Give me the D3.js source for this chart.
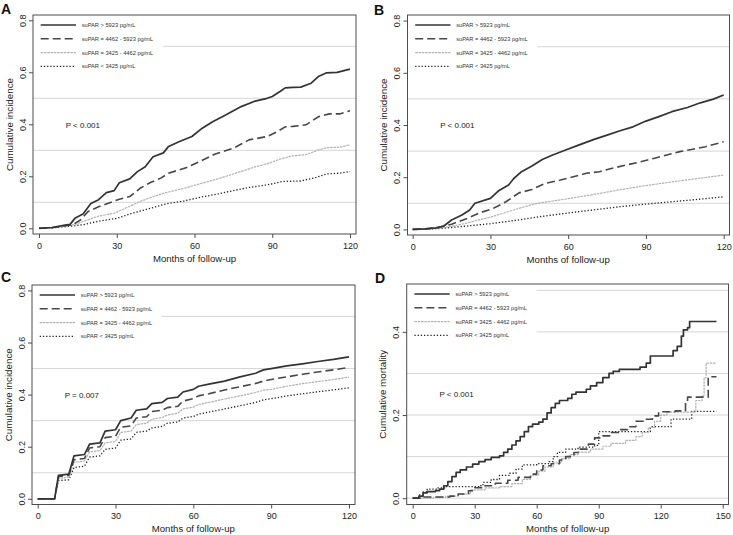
<!DOCTYPE html>
<html>
<head>
<meta charset="utf-8">
<script src="https://cdn.jsdelivr.net/npm/d3@7"></script>
<style>
  html, body { margin: 0; padding: 0; background: #fff; }
  svg { display: block; font-family: "Liberation Sans", Arial, Helvetica, sans-serif; }
</style>
</head>
<body>
<svg id="chart" width="733" height="535"></svg>
<script>
// ---------------- DATA ----------------
const legendLabels = ["suPAR > 5923 pg/mL", "suPAR = 4462 - 5923 pg/mL", "suPAR = 3425 - 4462 pg/mL", "suPAR < 3425 pg/mL"];
const panelLetters = ["A", "B", "C", "D"];
const pValues = ["P < 0.001", "P < 0.001", "P = 0.007", "P < 0.001"];
const yTitles = ["Cumulative incidence", "Cumulative incidence", "Cumulative incidence", "Cumulative mortality"];
const xTitle = "Months of follow-up";
const xTicks120 = [0, 30, 60, 90, 120];
const xTicks150 = [0, 30, 60, 90, 120, 150];
const yTicks08 = [0, 0.2, 0.4, 0.6, 0.8];
const yGrid08 = [0.1, 0.3, 0.5, 0.7];
const yTicks05 = [0, 0.2, 0.4];
const yGrid05 = [0, 0.1, 0.2, 0.3, 0.4, 0.5];

// Panel A: [month, cumulative incidence]
const A_high = [[0,0],[5,0.003],[10,0.012],[12,0.015],[14,0.04],[17,0.055],[20,0.095],[23,0.11],[26,0.137],[29,0.145],[31,0.175],[35,0.19],[38,0.218],[41,0.237],[44,0.275],[48,0.29],[50,0.315],[54,0.333],[59,0.353],[63,0.385],[67,0.41],[72,0.436],[78,0.468],[83,0.488],[88,0.5],[90,0.507],[93,0.526],[95,0.54],[98,0.542],[101,0.543],[105,0.558],[108,0.585],[111,0.598],[115,0.6],[120,0.612]];
const A_mid2 = [[0,0],[5,0.002],[10,0.01],[13,0.014],[16,0.032],[19,0.065],[23,0.083],[27,0.097],[31,0.112],[35,0.122],[39,0.154],[43,0.176],[47,0.193],[50,0.212],[57,0.234],[62,0.257],[68,0.286],[75,0.308],[81,0.34],[88,0.353],[92,0.372],[95,0.39],[98,0.392],[103,0.398],[108,0.43],[112,0.44],[116,0.44],[120,0.452]];
const A_mid1 = [[0,0],[5,0.002],[10,0.008],[14,0.015],[17,0.026],[23,0.047],[29,0.058],[34,0.08],[39,0.103],[44,0.122],[49,0.137],[56,0.154],[62,0.171],[69,0.19],[75,0.209],[83,0.235],[88,0.248],[93,0.266],[98,0.279],[103,0.283],[108,0.302],[111,0.31],[116,0.312],[120,0.321]];
const A_low = [[0,0],[5,0.002],[10,0.006],[14,0.01],[17,0.014],[23,0.027],[30,0.038],[36,0.058],[43,0.077],[49,0.094],[56,0.105],[62,0.119],[69,0.132],[75,0.145],[81,0.157],[88,0.167],[94,0.18],[101,0.182],[107,0.196],[111,0.209],[116,0.212],[120,0.218]];

// Panel B
const B_high = [[0,0],[5,0.002],[9,0.006],[12,0.013],[15,0.036],[19,0.055],[22,0.074],[24,0.1],[30,0.119],[33,0.147],[37,0.17],[39,0.195],[42,0.221],[46,0.243],[50,0.268],[54,0.285],[59,0.304],[64,0.323],[70,0.345],[75,0.361],[80,0.378],[85,0.393],[90,0.415],[95,0.432],[100,0.451],[106,0.467],[111,0.485],[116,0.499],[120,0.515]];
const B_mid2 = [[0,0],[5,0.002],[10,0.008],[15,0.02],[21,0.042],[26,0.064],[31,0.08],[36,0.106],[41,0.14],[46,0.153],[51,0.176],[57,0.189],[62,0.202],[67,0.215],[72,0.221],[77,0.234],[82,0.246],[88,0.259],[93,0.272],[98,0.285],[103,0.298],[108,0.307],[113,0.317],[120,0.336]];
const B_mid1 = [[0,0],[10,0.004],[15,0.012],[20,0.022],[25,0.035],[30,0.047],[35,0.062],[40,0.078],[45,0.092],[48,0.1],[55,0.11],[60,0.118],[70,0.134],[80,0.152],[90,0.168],[100,0.182],[110,0.195],[120,0.208]];
const B_low = [[0,0],[10,0.003],[20,0.012],[30,0.022],[40,0.035],[50,0.05],[60,0.063],[70,0.075],[80,0.087],[90,0.097],[100,0.106],[110,0.115],[120,0.125]];

// Panel C
const C_high = [[0,0],[6.5,0],[8,0.09],[12,0.095],[14,0.165],[18,0.17],[20,0.21],[24,0.215],[26,0.26],[30,0.265],[32,0.3],[36,0.31],[38,0.34],[42,0.345],[44,0.365],[48,0.37],[50,0.385],[54,0.39],[56,0.41],[60,0.42],[62,0.432],[66,0.44],[72,0.452],[78,0.468],[84,0.482],[87,0.495],[90,0.5],[96,0.51],[102,0.518],[108,0.527],[114,0.535],[120,0.545]];
const C_mid2 = [[0,0],[6.5,0],[8,0.085],[12,0.09],[14,0.15],[18,0.155],[20,0.195],[24,0.2],[26,0.235],[30,0.24],[32,0.275],[36,0.28],[38,0.31],[42,0.315],[44,0.335],[48,0.34],[50,0.35],[54,0.355],[56,0.375],[60,0.385],[62,0.395],[66,0.403],[72,0.418],[78,0.43],[84,0.443],[87,0.452],[90,0.458],[96,0.468],[102,0.478],[108,0.487],[114,0.495],[120,0.504]];
const C_mid1 = [[0,0],[6.5,0],[8,0.078],[12,0.083],[14,0.14],[18,0.145],[20,0.18],[24,0.185],[26,0.215],[30,0.22],[32,0.255],[36,0.26],[38,0.285],[42,0.29],[44,0.305],[48,0.312],[50,0.322],[54,0.328],[56,0.345],[60,0.352],[62,0.362],[66,0.37],[72,0.383],[78,0.395],[84,0.408],[87,0.417],[90,0.42],[96,0.432],[102,0.442],[108,0.45],[114,0.458],[120,0.467]];
const C_low = [[0,0],[6.5,0],[8,0.07],[12,0.073],[14,0.12],[18,0.125],[20,0.16],[24,0.165],[26,0.19],[30,0.195],[32,0.225],[36,0.23],[38,0.255],[42,0.26],[44,0.272],[48,0.278],[50,0.29],[54,0.295],[56,0.31],[60,0.316],[62,0.325],[66,0.333],[72,0.345],[78,0.357],[84,0.37],[87,0.38],[90,0.384],[96,0.395],[102,0.403],[108,0.411],[114,0.418],[120,0.426]];

// Panel D (step functions): [month, cumulative mortality]
const D_high = [[0,0],[3,0.005],[5,0.013],[7,0.016],[11,0.018],[13,0.022],[15,0.03],[17,0.04],[19,0.052],[21,0.062],[23,0.068],[26,0.075],[29,0.082],[32,0.088],[35,0.093],[38,0.098],[42,0.102],[44,0.11],[46,0.118],[48,0.128],[50,0.138],[52,0.148],[54,0.16],[56,0.172],[58,0.178],[61,0.183],[63,0.19],[65,0.205],[67,0.218],[69,0.228],[71,0.235],[75,0.24],[77,0.25],[79,0.255],[84,0.262],[86,0.27],[89,0.278],[92,0.29],[95,0.3],[97,0.305],[100,0.31],[110,0.315],[113,0.325],[115,0.342],[124,0.342],[126,0.355],[128,0.365],[130,0.39],[131,0.405],[133,0.41],[134,0.425],[147,0.425]];
const D_mid2 = [[0,0],[5,0.003],[18,0.005],[22,0.01],[27,0.018],[30,0.025],[34,0.03],[40,0.036],[46,0.043],[51,0.05],[57,0.058],[60,0.068],[63,0.078],[67,0.083],[71,0.092],[74,0.1],[78,0.11],[81,0.118],[85,0.13],[88,0.145],[92,0.15],[96,0.158],[100,0.165],[104,0.172],[108,0.185],[112,0.19],[116,0.198],[119,0.208],[127,0.21],[132,0.232],[133,0.243],[142,0.243],[143,0.292],[147,0.292]];
const D_mid1 = [[0,0],[10,0.002],[16,0.005],[22,0.01],[28,0.02],[35,0.025],[42,0.028],[48,0.035],[53,0.045],[57,0.055],[61,0.065],[64,0.075],[68,0.085],[72,0.095],[76,0.105],[80,0.111],[86,0.118],[92,0.125],[96,0.132],[103,0.139],[108,0.148],[111,0.158],[114,0.17],[117,0.185],[120,0.2],[123,0.207],[136,0.207],[137,0.235],[140,0.247],[141,0.29],[142,0.325],[147,0.325]];
const D_low = [[0,0],[3,0.008],[5,0.015],[7,0.022],[12,0.025],[16,0.028],[32,0.03],[34,0.038],[38,0.045],[42,0.055],[47,0.06],[50,0.07],[53,0.08],[60,0.083],[66,0.088],[68,0.1],[70,0.11],[74,0.118],[80,0.123],[88,0.127],[90,0.16],[114,0.16],[115,0.172],[125,0.19],[135,0.209],[147,0.209]];

// ---------------- STYLES ----------------
const seriesStyles = [
  { stroke: "#333333", width: 1.7, dash: null },
  { stroke: "#474747", width: 1.6, dash: "8,4" },
  { stroke: "#b2b2b2", width: 1.2, dash: "2.5,0.8" },
  { stroke: "#222222", width: 1.3, dash: "1.3,1.9" }
];

const panels = [
  { letter: panelLetters[0], p: pValues[0], yTitle: yTitles[0], series: [A_high, A_mid2, A_mid1, A_low],
    xDomain: [0,120], xRange: [39, 350], yDomain: [0,0.8], yRange: [228.3, 20.3],
    frame: [33, 15, 356, 234], xTicks: xTicks120, yTicks: yTicks08, yGrid: yGrid08, step: false, letterPos: [1, 13.5] },
  { letter: panelLetters[1], p: pValues[1], yTitle: yTitles[1], series: [B_high, B_mid2, B_mid1, B_low],
    xDomain: [0,120], xRange: [412.7, 723.7], yDomain: [0,0.8], yRange: [229.4, 20.6],
    frame: [407.5, 15, 729.5, 235], xTicks: xTicks120, yTicks: yTicks08, yGrid: yGrid08, step: false, letterPos: [374, 15] },
  { letter: panelLetters[2], p: pValues[2], yTitle: yTitles[2], series: [C_high, C_mid2, C_mid1, C_low],
    xDomain: [0,120], xRange: [37.7, 349], yDomain: [0,0.8], yRange: [498.8, 290.4],
    frame: [32, 285, 355, 504.5], xTicks: xTicks120, yTicks: yTicks08, yGrid: yGrid08, step: false, letterPos: [1, 282] },
  { letter: panelLetters[3], p: pValues[3], yTitle: yTitles[3], series: [D_high, D_mid2, D_mid1, D_low],
    xDomain: [0,150], xRange: [412.7, 722.7], yDomain: [0,0.5], yRange: [498.2, 290.3],
    frame: [406.7, 284, 728.5, 504.5], xTicks: xTicks150, yTicks: yTicks05, yGrid: yGrid05, step: true, letterPos: [375, 282.5] }
];

const svg = d3.select("#chart");
const fmtY = d3.format(".1f");

panels.forEach(pn => {
  const g = svg.append("g");
  const x = d3.scaleLinear().domain(pn.xDomain).range(pn.xRange);
  const y = d3.scaleLinear().domain(pn.yDomain).range(pn.yRange);
  const [fl, ft, fr, fb] = pn.frame;

  // gridlines
  g.selectAll(".grid").data(pn.yGrid).join("line")
    .attr("x1", fl).attr("x2", fr)
    .attr("y1", d => y(d)).attr("y2", d => y(d))
    .attr("stroke", "#d6d6d6").attr("stroke-width", 1);

  // legend white box
  g.append("rect").attr("x", fl + 0.5).attr("y", ft + 0.5)
    .attr("width", 129.5).attr("height", 58).attr("fill", "#fff");

  // series
  const line = d3.line().x(d => x(d[0])).y(d => y(d[1]))
    .curve(pn.step ? d3.curveStepAfter : d3.curveLinear);
  pn.series.slice().reverse().forEach((s, iRev) => {
    const i = pn.series.length - 1 - iRev;
    const st = seriesStyles[i];
    g.append("path").datum(s).attr("d", line)
      .attr("fill", "none").attr("stroke", st.stroke).attr("stroke-width", st.width)
      .attr("stroke-dasharray", st.dash).attr("stroke-linejoin", "round");
  });

  // frame
  g.append("rect").attr("x", fl).attr("y", ft).attr("width", fr - fl).attr("height", fb - ft)
    .attr("fill", "none").attr("stroke", "#4d4d4d").attr("stroke-width", 1);

  // y axis
  const yAxis = g.append("g").attr("transform", `translate(${fl},0)`)
    .call(d3.axisLeft(y).tickValues(pn.yTicks).tickSize(4).tickFormat(fmtY));
  yAxis.select(".domain").remove();
  yAxis.selectAll(".tick line").attr("stroke", "#4d4d4d");
  yAxis.selectAll(".tick text")
    .attr("x", null).attr("dy", null)
    .attr("transform", "translate(-7.5,0) rotate(-90)")
    .attr("text-anchor", "middle")
    .attr("font-size", 9).attr("fill", "#222")
    .attr("font-family", "'Liberation Sans', Arial, sans-serif");

  // x axis
  const xAxis = g.append("g").attr("transform", `translate(0,${fb})`)
    .call(d3.axisBottom(x).tickValues(pn.xTicks).tickSize(4).tickFormat(d3.format("d")));
  xAxis.select(".domain").remove();
  xAxis.selectAll(".tick line").attr("stroke", "#4d4d4d");
  xAxis.selectAll(".tick text")
    .attr("y", 14.5).attr("dy", null)
    .attr("font-size", 9).attr("fill", "#222")
    .attr("font-family", "'Liberation Sans', Arial, sans-serif");

  // axis titles
  g.append("text").attr("x", (pn.xRange[0] + pn.xRange[1]) / 2).attr("y", fb + 27.5)
    .attr("text-anchor", "middle").attr("font-size", 9.6).attr("fill", "#222").text(xTitle);
  g.append("text")
    .attr("transform", `translate(${fl - 20.5},${(ft + fb) / 2}) rotate(-90)`)
    .attr("text-anchor", "middle").attr("font-size", 9.8).attr("fill", "#222").text(pn.yTitle);

  // panel letter
  g.append("text").attr("x", pn.letterPos[0]).attr("y", pn.letterPos[1])
    .attr("font-size", 14).attr("font-weight", "bold").attr("fill", "#111").text(pn.letter);

  // p-value
  g.append("text").attr("x", fl + 32.7).attr("y", (ft + fb) / 2 + 3)
    .attr("font-size", 8).attr("fill", "#222").text(pn.p);

  // legend
  legendLabels.forEach((lab, i) => {
    const ly = ft + 10 + i * 13.8;
    const st = seriesStyles[i];
    g.append("line").attr("x1", fl + 7.7).attr("x2", fl + 43).attr("y1", ly).attr("y2", ly)
      .attr("stroke", st.stroke).attr("stroke-width", st.width).attr("stroke-dasharray", st.dash);
    g.append("text").attr("x", fl + 48.7).attr("y", ly + 2)
      .attr("font-size", 5.7).attr("fill", "#333").text(lab);
  });
});
</script>
</body>
</html>
